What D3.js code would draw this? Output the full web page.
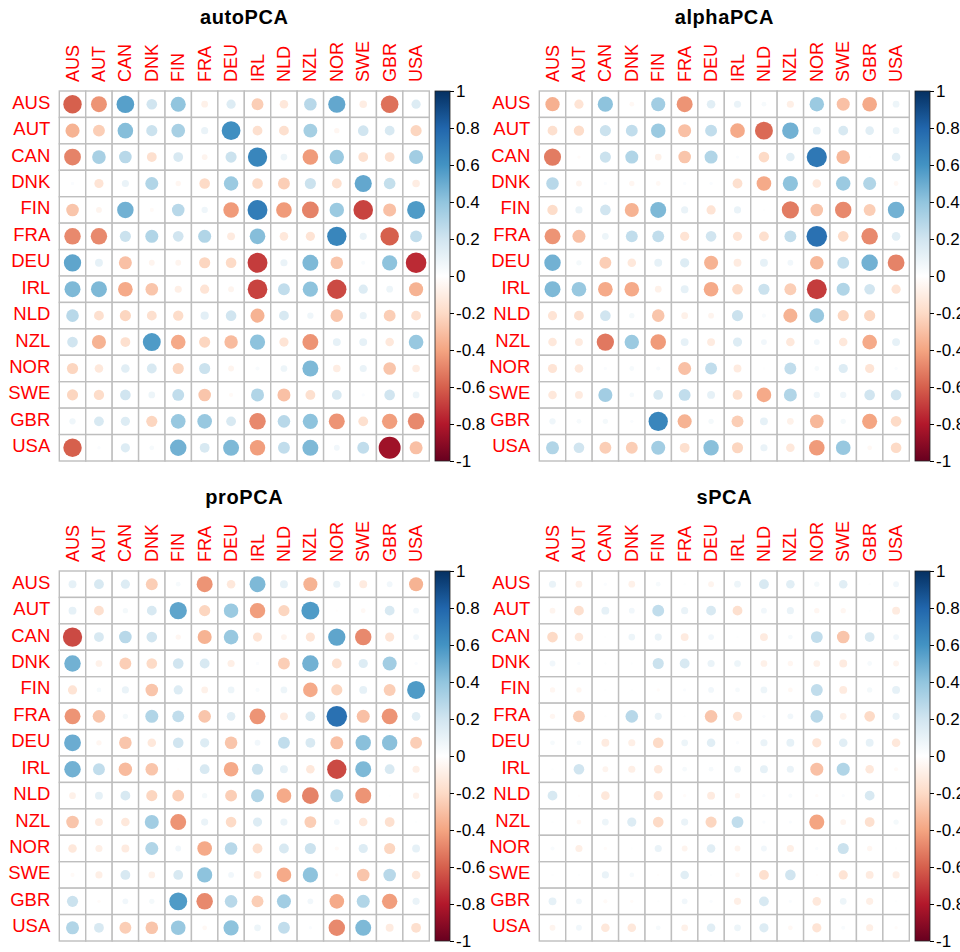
<!DOCTYPE html>
<html>
<head>
<meta charset="utf-8">
<script src="https://cdn.jsdelivr.net/npm/d3@7"></script>
<style>
  body { margin: 0; background: #ffffff; }
  text { font-family: "Liberation Sans", Arial, Helvetica, sans-serif; }
</style>
</head>
<body>
<svg id="chart" width="960" height="952"></svg>
<script>
// Country codes used for both rows and columns of every matrix
const countries = ["AUS", "AUT", "CAN", "DNK", "FIN", "FRA", "DEU", "IRL", "NLD", "NZL", "NOR", "SWE", "GBR", "USA"];

// Correlation matrices, one row per country (same order as columns)
const autoPCA = [
  [-0.60, -0.45, 0.55, 0.20, 0.40, -0.08, 0.15, -0.25, -0.13, 0.28, 0.52, -0.10, -0.55, 0.15],
  [-0.35, -0.25, 0.43, 0.22, 0.33, 0.09, 0.62, -0.17, -0.17, 0.34, -0.05, 0.20, 0.17, -0.22],
  [-0.50, 0.33, 0.28, -0.17, 0.17, -0.06, 0.22, 0.66, 0.08, -0.43, 0.37, -0.17, -0.17, 0.35],
  [0.02, -0.15, 0.09, 0.30, -0.05, -0.20, 0.37, -0.20, -0.25, 0.22, -0.17, 0.52, 0.24, -0.10],
  [-0.28, -0.06, 0.48, -0.03, 0.28, 0.07, -0.43, 0.70, -0.43, -0.50, 0.37, -0.68, -0.30, 0.57],
  [-0.48, -0.48, 0.22, 0.30, 0.20, 0.30, -0.11, 0.43, -0.13, -0.15, 0.66, 0.09, -0.60, 0.25],
  [0.53, 0.11, -0.30, -0.06, -0.06, -0.22, -0.20, -0.70, 0.09, 0.45, -0.28, 0.03, 0.41, -0.75],
  [0.45, 0.45, -0.38, -0.28, -0.09, -0.15, -0.06, -0.68, 0.25, 0.41, -0.66, 0.15, 0.08, -0.35],
  [0.28, -0.17, -0.22, -0.17, -0.19, 0.12, 0.20, -0.35, 0.17, 0.07, -0.28, 0.09, -0.25, -0.17],
  [0.20, -0.35, -0.17, 0.57, -0.38, -0.22, -0.32, 0.41, -0.15, -0.45, 0.11, 0.11, -0.13, 0.38],
  [-0.22, -0.13, 0.13, 0.17, -0.22, 0.22, -0.06, 0.03, 0.08, 0.45, -0.10, 0.09, -0.28, -0.10],
  [-0.22, -0.19, 0.20, 0.08, 0.25, -0.28, -0.03, 0.30, -0.30, -0.17, 0.17, 0.02, 0.20, 0.08],
  [0.07, 0.17, 0.15, -0.22, 0.38, 0.38, 0.17, -0.48, 0.28, 0.41, -0.45, -0.17, -0.42, -0.48],
  [-0.60, 0.02, 0.15, 0.04, 0.48, 0.17, 0.45, -0.42, 0.25, 0.45, 0.06, 0.25, -0.85, -0.30]
];

const alphaPCA = [
  [-0.36, -0.15, 0.41, -0.04, 0.35, -0.45, 0.13, 0.09, 0.04, -0.09, 0.37, -0.30, -0.38, 0.08],
  [-0.17, -0.19, 0.22, 0.25, 0.37, -0.30, 0.25, -0.38, -0.57, 0.48, 0.11, 0.17, 0.13, 0.08],
  [-0.52, -0.02, 0.22, 0.30, -0.08, -0.28, 0.30, 0.02, -0.20, 0.13, 0.72, -0.33, 0.01, 0.13],
  [0.28, -0.06, 0.02, -0.05, -0.04, 0.02, 0.02, -0.17, -0.38, 0.41, -0.13, 0.37, 0.30, -0.04],
  [-0.19, 0.09, 0.20, -0.35, 0.45, 0.09, -0.15, 0.09, 0.01, -0.52, -0.28, -0.48, -0.25, 0.48],
  [-0.45, -0.30, 0.08, 0.25, 0.25, -0.15, 0.20, -0.15, -0.17, 0.25, 0.75, -0.20, -0.48, 0.13],
  [0.48, 0.05, -0.25, -0.13, 0.11, 0.15, -0.35, -0.11, 0.11, 0.06, -0.33, 0.25, 0.48, -0.50],
  [0.45, 0.38, -0.38, -0.38, -0.08, 0.11, -0.38, -0.20, 0.22, -0.25, -0.70, 0.30, 0.20, -0.15],
  [-0.15, -0.17, 0.20, 0.05, -0.28, -0.08, -0.06, 0.22, 0.03, -0.35, 0.38, -0.22, -0.22, 0.00],
  [-0.13, -0.11, -0.53, 0.37, -0.43, 0.11, -0.11, 0.15, 0.06, -0.13, 0.06, -0.13, -0.38, 0.11],
  [-0.15, -0.13, 0.02, 0.04, 0.03, -0.30, 0.25, -0.11, 0.01, 0.25, 0.04, 0.15, -0.15, 0.02],
  [-0.13, -0.11, 0.35, 0.04, 0.17, 0.25, 0.11, -0.17, -0.38, 0.30, 0.07, 0.07, 0.20, 0.20],
  [0.07, 0.04, 0.05, 0.02, 0.66, -0.35, 0.05, -0.25, 0.11, -0.08, -0.33, 0.05, -0.40, -0.20],
  [0.30, 0.20, -0.25, -0.25, 0.35, -0.17, 0.42, -0.22, 0.09, -0.13, -0.43, 0.38, -0.04, -0.20]
];

const proPCA = [
  [0.11, 0.17, 0.15, -0.25, 0.04, -0.45, -0.13, 0.45, 0.11, -0.35, 0.09, -0.11, 0.06, -0.35],
  [0.11, -0.17, 0.05, 0.17, 0.53, -0.22, 0.37, -0.42, -0.22, 0.57, -0.01, -0.04, 0.17, 0.06],
  [-0.66, 0.17, 0.28, 0.20, -0.05, -0.35, 0.38, -0.15, -0.06, -0.15, 0.53, -0.48, -0.15, 0.06],
  [0.48, -0.08, -0.25, -0.20, 0.20, 0.17, -0.09, 0.02, -0.25, 0.48, -0.17, 0.15, 0.35, 0.02],
  [-0.15, 0.04, 0.09, -0.28, 0.15, -0.08, 0.08, 0.03, 0.08, -0.38, -0.22, 0.11, -0.25, 0.57],
  [-0.45, -0.28, 0.05, 0.30, 0.25, -0.28, 0.13, -0.45, -0.11, 0.17, 0.75, -0.30, -0.45, 0.13],
  [0.50, -0.05, -0.28, -0.13, 0.20, 0.15, -0.28, 0.06, 0.25, 0.17, -0.30, 0.42, 0.42, -0.25],
  [0.48, 0.25, -0.32, -0.28, -0.01, 0.17, -0.38, 0.22, 0.11, -0.13, -0.66, 0.45, 0.17, -0.09],
  [-0.08, 0.11, 0.17, -0.22, -0.25, 0.05, -0.25, 0.30, -0.38, -0.50, 0.30, -0.45, 0.01, -0.07],
  [-0.28, -0.11, -0.13, 0.35, -0.45, 0.09, -0.20, 0.15, 0.09, -0.25, 0.06, -0.13, -0.17, 0.01],
  [-0.13, -0.09, -0.11, 0.30, 0.06, -0.38, 0.28, -0.17, 0.17, 0.22, -0.03, 0.15, -0.22, 0.11],
  [-0.03, -0.09, 0.17, -0.08, 0.17, 0.41, 0.06, -0.11, -0.38, 0.41, -0.02, -0.28, 0.28, -0.13],
  [0.22, -0.02, 0.06, 0.05, 0.57, -0.48, 0.28, -0.25, 0.35, 0.06, -0.38, 0.30, -0.42, 0.09],
  [0.30, 0.17, -0.25, -0.28, 0.38, -0.04, 0.41, 0.08, 0.25, 0.02, -0.48, 0.45, -0.11, -0.17]
];

const sPCA = [
  [0.09, -0.08, 0.02, -0.08, 0.04, 0.01, -0.06, 0.08, 0.17, 0.13, 0.05, 0.13, 0.01, 0.06],
  [-0.06, -0.17, 0.11, 0.06, 0.25, 0.09, 0.17, -0.17, 0.06, 0.09, -0.05, -0.05, 0.01, -0.11],
  [-0.20, -0.13, 0.01, 0.08, 0.09, -0.11, 0.06, 0.01, -0.11, 0.04, 0.25, -0.28, 0.17, 0.06],
  [0.06, 0.02, 0.01, 0.01, 0.22, 0.17, 0.09, 0.08, -0.08, -0.05, -0.08, -0.11, 0.04, -0.06],
  [-0.05, -0.05, 0.01, 0.01, -0.02, 0.02, 0.06, 0.04, 0.08, -0.04, 0.25, -0.11, 0.05, 0.11],
  [-0.05, -0.25, 0.01, 0.28, 0.09, 0.01, -0.28, -0.15, 0.02, 0.06, 0.28, -0.08, -0.20, 0.09],
  [0.04, 0.04, -0.11, -0.09, -0.20, 0.08, 0.13, 0.02, 0.09, 0.11, -0.15, 0.13, 0.11, -0.13],
  [0.01, 0.20, -0.06, -0.09, -0.13, 0.04, 0.04, 0.08, 0.11, 0.09, -0.30, 0.30, -0.13, -0.03],
  [0.17, -0.01, -0.13, 0.00, -0.15, -0.02, -0.11, -0.05, 0.02, 0.03, -0.02, 0.02, 0.17, 0.00],
  [0.01, -0.04, 0.08, 0.15, -0.20, 0.09, -0.22, 0.25, 0.02, 0.02, -0.40, -0.06, -0.17, 0.05],
  [0.03, -0.09, -0.02, 0.01, 0.09, -0.06, 0.13, -0.06, 0.06, -0.09, 0.02, 0.22, -0.05, 0.01],
  [0.01, 0.01, 0.09, 0.04, -0.01, 0.13, 0.01, -0.04, -0.17, 0.20, -0.01, -0.15, -0.11, -0.09],
  [0.11, 0.06, -0.03, -0.02, 0.01, 0.06, 0.02, -0.09, 0.17, 0.02, -0.13, 0.08, -0.09, 0.01],
  [-0.06, 0.06, -0.13, -0.13, 0.04, -0.08, 0.13, 0.08, 0.15, -0.04, -0.15, 0.03, -0.09, -0.02]
];

const panelTitles = ["autoPCA", "alphaPCA", "proPCA", "sPCA"];
const panelValues = [autoPCA, alphaPCA, proPCA, sPCA];

// Colour legend tick values and labels
const legendTicks = [1, 0.8, 0.6, 0.4, 0.2, 0, -0.2, -0.4, -0.6, -0.8, -1];
const legendLabels = ["1", "0.8", "0.6", "0.4", "0.2", "0", "-0.2", "-0.4", "-0.6", "-0.8", "-1"];

// Diverging red-white-blue palette from -1 to 1
const paletteColors = ["#67001F", "#B2182B", "#D6604D", "#F4A582", "#FDDBC7", "#FFFFFF",
                       "#D1E5F0", "#92C5DE", "#4393C3", "#2166AC", "#053061"];

const svg = d3.select("#chart");

// Geometry of a single panel (each panel occupies a 480 x 480 block)
const gridLeft = 59.3, gridTop = 91, gridSize = 370;
const panelOffsets = [[0, 0], [480, 0], [0, 480], [480, 480]];

const x = d3.scaleBand().domain(countries).range([gridLeft, gridLeft + gridSize]);
const y = d3.scaleBand().domain(countries).range([gridTop, gridTop + gridSize]);
const color = d3.scaleLinear()
  .domain(d3.range(paletteColors.length).map(i => -1 + i * 2 / (paletteColors.length - 1)))
  .range(paletteColors)
  .interpolate(d3.interpolateRgb);
const radius = d3.scaleSqrt().domain([0, 1]).range([0, 0.45 * x.bandwidth()]);
const legendScale = d3.scaleLinear().domain([-1, 1]).range([gridTop + gridSize, gridTop]);

// Shared vertical gradient for the colour bars
const defs = svg.append("defs");
const grad = defs.append("linearGradient")
  .attr("id", "corrGradient")
  .attr("x1", 0).attr("y1", 1).attr("x2", 0).attr("y2", 0);
paletteColors.forEach((c, i) => {
  grad.append("stop")
    .attr("offset", (i / (paletteColors.length - 1)) * 100 + "%")
    .attr("stop-color", c);
});

panelValues.forEach((matrix, p) => {
  const [ox, oy] = panelOffsets[p];
  const g = svg.append("g").attr("transform", `translate(${ox},${oy})`);

  // Title
  g.append("text")
    .attr("x", gridLeft + gridSize / 2)
    .attr("y", 24)
    .attr("text-anchor", "middle")
    .attr("font-size", "20px")
    .attr("font-weight", "bold")
    .attr("letter-spacing", "0.6px")
    .attr("fill", "#000")
    .text(panelTitles[p]);

  // Cell data
  const cells = [];
  matrix.forEach((row, i) => row.forEach((v, j) => cells.push({ r: countries[i], c: countries[j], v })));

  // Grid cells
  g.append("g").selectAll("rect")
    .data(cells)
    .join("rect")
    .attr("x", d => x(d.c))
    .attr("y", d => y(d.r))
    .attr("width", x.bandwidth())
    .attr("height", y.bandwidth())
    .attr("fill", "#ffffff")
    .attr("stroke", "#bebebe")
    .attr("stroke-width", 1.4);

  // Circles: area proportional to |r|, colour from the diverging palette
  g.append("g").selectAll("circle")
    .data(cells)
    .join("circle")
    .attr("cx", d => x(d.c) + x.bandwidth() / 2)
    .attr("cy", d => y(d.r) + y.bandwidth() / 2)
    .attr("r", d => radius(Math.abs(d.v)))
    .attr("fill", d => color(d.v));

  // Row labels
  g.append("g").selectAll("text")
    .data(countries)
    .join("text")
    .attr("x", gridLeft - 9)
    .attr("y", d => y(d) + y.bandwidth() / 2 - 2)
    .attr("text-anchor", "end")
    .attr("dominant-baseline", "central")
    .attr("font-size", "18.5px")
    .attr("fill", "#ff0000")
    .text(d => d);

  // Column labels, rotated
  g.append("g").selectAll("text")
    .data(countries)
    .join("text")
    .attr("transform", d => `translate(${x(d) + x.bandwidth() / 2},${gridTop - 9}) rotate(-90)`)
    .attr("text-anchor", "start")
    .attr("dominant-baseline", "central")
    .attr("font-size", "18px")
    .attr("fill", "#ff0000")
    .text(d => d);

  // Colour bar
  const barX = 435, barW = 15;
  g.append("rect")
    .attr("x", barX)
    .attr("y", legendScale(1))
    .attr("width", barW)
    .attr("height", legendScale(-1) - legendScale(1))
    .attr("fill", "url(#corrGradient)")
    .attr("stroke", "#222")
    .attr("stroke-width", 0.8);

  const axis = d3.axisRight(legendScale)
    .tickValues(legendTicks)
    .tickSize(4)
    .tickPadding(2)
    .tickFormat((d, i) => legendLabels[i]);
  const ag = g.append("g")
    .attr("transform", `translate(${barX + barW},0)`)
    .call(axis);
  ag.select(".domain").remove();
  ag.selectAll(".tick line").attr("stroke", "#000");
  ag.selectAll(".tick text")
    .attr("font-size", "17px")
    .attr("font-family", "'Liberation Sans', Arial, sans-serif")
    .attr("fill", "#000");
});
</script>
</body>
</html>
